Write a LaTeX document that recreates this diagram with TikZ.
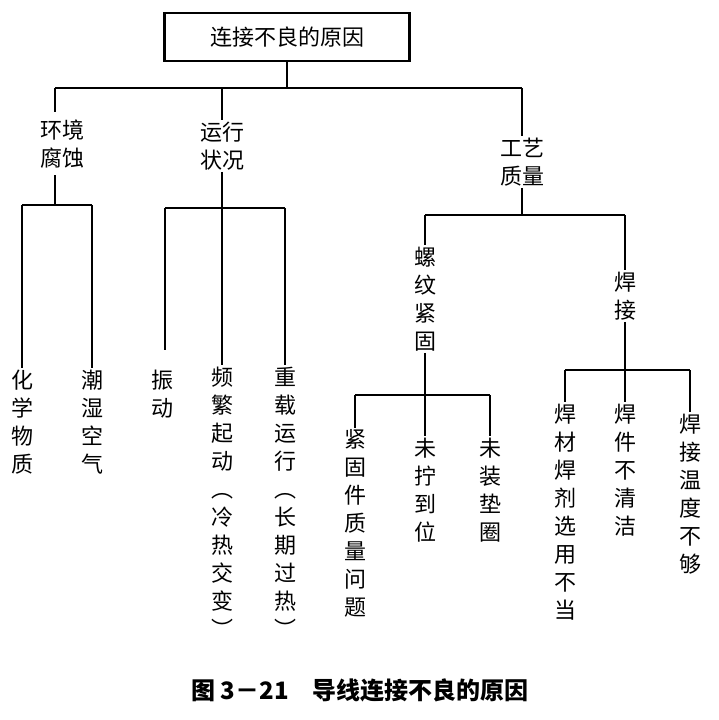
\documentclass[tikz,border=0pt]{standalone}
\usepackage{fontspec}
\newfontfamily\cjk{Noto Sans CJK SC}
\begin{document}
\begin{tikzpicture}[x=1pt,y=-1pt,line width=1.6pt,
  vt/.style={anchor=north,align=center,font=\cjk\fontsize{22}{28}\selectfont,inner sep=1pt},
  ht/.style={align=center,font=\cjk\fontsize{22}{28}\selectfont,inner sep=1pt}]
\useasboundingbox (0,0) rectangle (718,720);
\node[draw,line width=2.2pt,minimum width=245pt,minimum height=48pt,font=\cjk\fontsize{22}{28}\selectfont] (root) at (287,37) {连接不良的原因};
\node[ht] (a) at (62,144) {环境\\腐蚀};
\node[ht] (b) at (222,146) {运行\\状况};
\node[ht] (c) at (522,162) {工艺\\质量};
\coordinate (j0) at (287,88);
\draw (root.south) -- (j0);
\draw (55,88) -- (522,88);
\draw (55,88) -- (55,112);
\draw (222,88) -- (b.north);
\draw (522,88) -- (c.north);
% env
\node[vt] (a1) at (22,368) {化\\学\\物\\质};
\node[vt] (a2) at (92,368) {潮\\湿\\空\\气};
\draw (55,175) -- (55,205); \draw (22,205) -- (92,205);
\draw (22,205) -- (a1.north); \draw (92,205) -- (a2.north);
% run
\node[vt] (b1) at (162,368) {振\\动};
\node[vt] (b2) at (222,365) {频\\繁\\起\\动\\︵\\冷\\热\\交\\变\\︶};
\node[vt] (b3) at (285,365) {重\\载\\运\\行\\︵\\长\\期\\过\\热\\︶};
\draw (b.south) -- (222,208); \draw (165,208) -- (285,208);
\draw (165,208) -- (165,350); \draw (222,208) -- (b2.north); \draw (285,208) -- (b3.north);
% craft
\node[vt] (c1) at (425,245) {螺\\纹\\紧\\固};
\node[ht] (c2) at (625,296) {焊\\接};
\draw (c.south) -- (522,215); \draw (425,215) -- (625,215);
\draw (425,215) -- (c1.north); \draw (625,215) -- (c2.north);
\node[vt] (d1) at (355,428) {紧\\固\\件\\质\\量\\问\\题};
\node[vt] (d2) at (425,436) {未\\拧\\到\\位};
\node[vt] (d3) at (490,436) {未\\装\\垫\\圈};
\draw (c1.south) -- (425,395); \draw (355,395) -- (490,395);
\draw (355,395) -- (d1.north); \draw (425,395) -- (d2.north); \draw (490,395) -- (d3.north);
\node[vt] (e1) at (565,402) {焊\\材\\焊\\剂\\选\\用\\不\\当};
\node[vt] (e2) at (625,402) {焊\\件\\不\\清\\洁};
\node[vt] (e3) at (690,412) {焊\\接\\温\\度\\不\\够};
\draw (c2.south) -- (625,370); \draw (565,370) -- (690,370);
\draw (565,370) -- (e1.north); \draw (625,370) -- (e2.north); \draw (690,370) -- (e3.north);
\node[font=\cjk\bfseries\fontsize{24}{28}\selectfont] (cap) at (360,690) {图 3－21\quad 导线连接不良的原因};
\end{tikzpicture}
\end{document}
